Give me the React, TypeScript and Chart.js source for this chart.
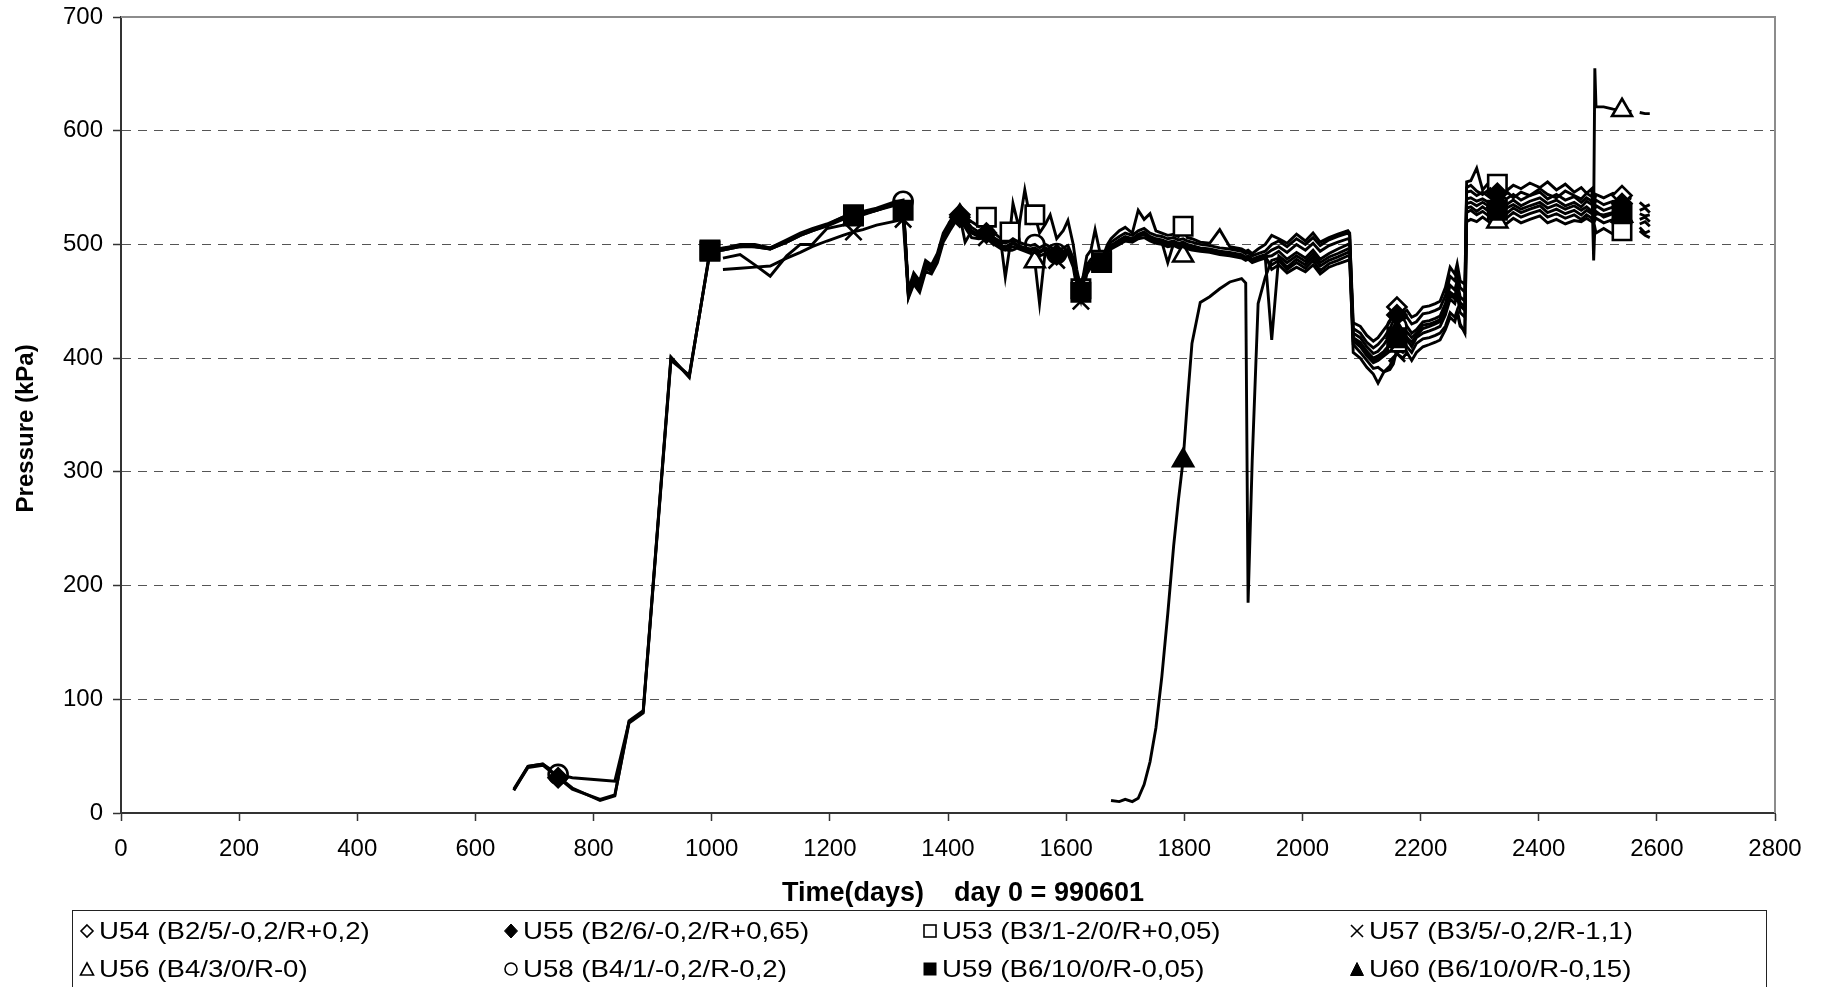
import React, { useEffect, useRef } from "react";
import { Chart, registerables } from "chart.js";

Chart.register(...registerables);

const N = null;

// Time axis (days, day 0 = 990601)
const DAYS = [
  // early
  665, 689, 714, 740, 764, 811, 836, 860, 884, 931, 962, 997,
  // 1000-1325
  1019, 1048, 1073, 1099, 1127, 1150, 1170, 1195, 1222, 1240, 1256, 1279, 1307, 1324,
  // 1333-1420
  1333, 1342, 1352, 1362, 1372, 1382, 1392, 1403, 1415, 1420,
  // 1429-1676
  1429, 1440, 1452, 1465, 1478, 1490, 1497, 1505, 1510, 1520,
  1530, 1540, 1547, 1555, 1565, 1573, 1584, 1595, 1603, 1612,
  1618, 1625, 1635, 1642, 1649, 1660, 1670, 1676,
  // 1690-1937
  1690, 1700, 1712, 1722, 1732, 1742, 1752, 1762, 1772, 1782,
  1790, 1798, 1805, 1813, 1827, 1843, 1860, 1877, 1897, 1904,
  1908, 1915, 1925, 1937,
  // 1948-2080
  1948, 1960, 1974, 1990, 2005, 2018, 2030, 2045, 2060, 2077, 2080,
  // 2086-2278
  2086, 2098, 2109, 2120, 2128, 2138, 2148, 2154, 2160, 2170,
  2177, 2185, 2193, 2204, 2215, 2225, 2233, 2242, 2250, 2258,
  2262, 2267, 2275, 2278,
  // 2285-2588
  2285, 2295, 2305, 2318, 2330, 2345, 2357, 2370, 2385, 2402,
  2415, 2430, 2445, 2460, 2472, 2481, 2490, 2493, 2495, 2497,
  2510, 2526, 2541, 2557, 2565, 2571, 2580, 2588,
];

const U54 = [
  21, 41, 43, 32, 22, 11, 15, 81, 90, 401, 383, 495,
  496, 500, 500, 497, 504, 510, 514, 518, 524, 527, 529, 532, 537, 539,
  458, 472, 465, 484, 480, 490, 508, 518, 527, 526,
  522, 515, 511, 514, 506, 502, 501, 503, 505, 502,
  500, 499, 500, 497, 500, 498, 493, 497, 499, 488,
  474, 465, 482, 487, 490, 489, 497, 502,
  507, 510, 508, 512, 514, 510, 508, 507, 505, 506,
  504, 505, 503, 502, 500, 499, 497, 496, 494, 492,
  493, 490, 492, 494,
  500, 503, 498, 505, 500, 506, 499, 504, 507, 510, 508,
  431, 428, 420, 415, 418, 425, 432, 440, 445, 440,
  442, 436, 438, 445, 446, 448, 450, 462, 480, 474,
  483, 468, 465, 550,
  552, 547, 544, 549, 543, 547, 541, 546, 543, 549,
  544, 541, 547, 543, 540, 545, 542, 544, 540, 544,
  541, 545, 543, 540, N, 537, 533, 535,
];

const U55 = [
  20, 40, 42, 31, 21, 12, 16, 79, 88, 398, 385, 493,
  495, 498, 499, 496, 502, 508, 512, 516, 522, 525, 527, 530, 535, 537,
  455, 468, 462, 480, 476, 487, 505, 515, 525, 524,
  519, 512, 508, 510, 504, 499, 498, 500, 502, 499,
  497, 496, 497, 494, 497, 495, 491, 494, 496, 485,
  470, 462, 478, 484, 487, 486, 494, 499,
  504, 507, 505, 509, 511, 507, 505, 504, 502, 503,
  501, 502, 500, 499, 497, 496, 494, 493, 491, 489,
  490, 487, 489, 491,
  495, 498, 493, 500, 495, 501, 494, 499, 502, 505, 504,
  426, 422, 414, 409, 412, 418, 426, 433, 438, 434,
  436, 430, 432, 439, 440, 442, 444, 455, 472, 468,
  476, 462, 458, 546,
  547, 543, 546, 541, 545, 540, 544, 539, 543, 546,
  540, 544, 539, 542, 537, 541, 538, 540, 536, 539,
  535, 538, 536, 534, N, 530, 532, 528,
];

const U53 = [
  N, N, N, N, N, N, N, N, N, N, N, 494,
  497, 499, 498, 496, 503, 509, 513, 517, 524, 526, 528, 531, 536, 537,
  460, 475, 468, 486, 482, 492, 510, 520, 528, 527,
  524, 520, 516, 524, 510, 505, 506, 511, 536, 515,
  548, 520, 526, 510, 518, 526, 505, 512, 521, 500,
  478, 461, 490, 495, 513, 486, 500, 505,
  512, 515, 510, 530, 522, 527, 512, 510, 508, 509,
  507, 516, 506, 505, 502, 501, 513, 498, 496, 494,
  495, 492, 496, 500,
  508, 505, 501, 509, 503, 510, 502, 506, 509, 512, 510,
  418, 412, 404, 398, 400, 404, 410, 412, 414, 412,
  416, 410, 418, 422, 424, 426, 428, 438, 452, 448,
  456, 440, 436, 555,
  556, 567, 548, 556, 553, 547, 552, 549, 554, 550,
  555, 548, 553, 546, 550, 545, 549, 486, 515, 510,
  514, 509, 512, 510, N, 512, 508, 506,
];

const U57 = [
  N, N, N, N, N, N, N, N, N, N, N, N,
  478, 479, 480, 481, 488, 493, 498, 503, 508, 511, 513, 517, 520, 522,
  453, 465, 458, 476, 474, 484, 502, 512, 522, 521,
  515, 506, 505, 506, 500, 496, 495, 497, 498, 496,
  494, 492, 493, 490, 492, 491, 486, 490, 492, 480,
  462, 450, 474, 480, 483, 482, 490, 496,
  500, 503, 502, 505, 506, 503, 501, 500, 498, 499,
  497, 498, 496, 495, 494, 493, 491, 490, 488, 486,
  487, 484, 486, 488,
  482, 486, 478, 484, 479, 486, 477, 483, 486, 490, 489,
  405, 400, 392, 386, 378, 388, 393, 400, 404, 400,
  405, 398, 405, 410, 412, 414, 416, 425, 436, 432,
  440, 428, 424, 528,
  530, 526, 529, 524, 527, 523, 528, 524, 527, 530,
  524, 527, 523, 526, 522, 526, 523, 524, 521, 523,
  519, 522, 520, 518, N, 515, 510, 512,
];

const U56 = [
  N, N, N, N, N, N, N, N, N, N, N, N,
  488, 491, 482, 472, 490, 500, 500, 514, 517, 524, 526, 530, 534, 533,
  456, 470, 463, 482, 478, 488, 506, 516, 526, 525,
  502, 512, 509, 508, 503, 500, 471, 499, 501, 498,
  496, 495, 485, 448, 496, 494, 490, 493, 495, 484,
  469, 461, 477, 483, 485, 485, 493, 498,
  503, 506, 504, 508, 510, 506, 504, 503, 501, 502,
  500, 490, 499, 498, 496, 495, 493, 492, 490, 488,
  489, 486, 488, 490,
  478, 482, 475, 480, 476, 482, 474, 480, 483, 486, 485,
  412, 405, 398, 391, 392, 388, 390, 395, 408, 405,
  410, 405, 413, 417, 418, 420, 422, 428, 440, 436,
  442, 430, 422, 520,
  522, 520, 524, 519, 520, 518, 523, 519, 522, 525,
  519, 522, 518, 521, 520, 523, 520, 523, 655, 621,
  621, 619, 618, 617, N, 616, 615, 615,
];

const U58 = [
  20, 41, 43, 34, 31, 29, 28, 80, 89, 400, 384, 494,
  495, 498, 498, 496, 502, 508, 512, 517, 523, 526, 528, 531, 536, 538,
  454, 470, 466, 478, 481, 486, 504, 514, 524, 523,
  518, 510, 507, 509, 502, 498, 497, 503, 500, 498,
  496, 494, 500, 493, 496, 494, 492, 493, 495, 484,
  468, 460, 476, 482, 486, 485, 493, 497,
  502, 505, 503, 507, 509, 505, 503, 502, 500, 501,
  499, 500, 498, 497, 495, 494, 492, 491, 489, 487,
  488, 485, 487, 489,
  490, 494, 487, 493, 488, 495, 487, 492, 496, 500, 499,
  422, 418, 410, 404, 406, 412, 420, 426, 428, 425,
  428, 422, 425, 432, 433, 435, 437, 448, 464, 460,
  468, 454, 450, 540,
  541, 538, 540, 536, 541, 535, 539, 534, 538, 541,
  536, 539, 534, 537, 533, 538, 535, 533, 531, 534,
  530, 533, 531, 529, N, 527, 525, 526,
];

const U59 = [
  N, N, N, N, N, N, N, N, N, N, N, 495,
  496, 499, 499, 497, 503, 509, 513, 517, 523, 525, 527, 530, 535, 530,
  457, 468, 461, 479, 477, 489, 506, 515, 525, 524,
  517, 511, 507, 509, 503, 498, 497, 500, 501, 498,
  496, 495, 496, 493, 496, 494, 489, 493, 495, 484,
  466, 458, 477, 483, 486, 484, 492, 497,
  503, 506, 504, 507, 509, 505, 503, 502, 484, 501,
  499, 500, 498, 497, 495, 494, 492, 491, 489, 487,
  488, 485, 487, 489,
  416, 490, 484, 490, 485, 492, 484, 489, 492, 496, 495,
  415, 410, 402, 396, 398, 402, 406, 410, 418, 414,
  418, 414, 420, 426, 428, 430, 432, 442, 456, 452,
  460, 446, 442, 532,
  533, 529, 533, 528, 530, 527, 532, 528, 531, 534,
  528, 531, 527, 530, 526, 530, 527, 529, 525, 527,
  526, 528, 527, 524, N, 522, 524, 520,
];

const U60 = [
  N, N, N, N, N, N, N, N, N, N, N, N,
  N, N, N, N, N, N, N, N, N, N, N, N, N, N,
  N, N, N, N, N, N, N, N, N, N,
  N, N, N, N, N, N, N, N, N, N,
  N, N, N, N, N, N, N, N, N, N,
  N, N, N, N, N, N, N, 11,
  10, 12, 10, 13, 25, 45, 75, 120, 175, 235,
  275, 310, 360, 413, 449, 454, 461, 467, 470, 466,
  185, 310, 448, 471,
  486, 488, 480, 487, 482, 489, 481, 486, 489, 493, 492,
  418, 414, 406, 400, 402, 406, 412, 417, 423, 420,
  423, 418, 422, 429, 430, 432, 434, 444, 458, 455,
  462, 449, 445, 536,
  537, 534, 537, 533, 538, 532, 535, 531, 534, 537,
  532, 535, 531, 534, 530, 533, 529, 531, 527, 529,
  524, 527, 525, 523, N, 518, 520, 516,
];

// Days at which each series shows its marker
const MK_U54 = [1420, 2160, 2541];
const MK_U55 = [740, 1420, 1465, 1584, 2160, 2330, 2541];
const MK_U53 = [997, 1240, 1465, 1505, 1547, 1625, 1660, 1798, 2160, 2330, 2541];
const MK_U57 = [1240, 1324, 1465, 1584, 1625, 2160];
const MK_U56 = [1420, 1547, 1798, 2330, 2541];
const MK_U58 = [740, 1324, 1505, 1547, 1584, 2160];
const MK_U59 = [997, 1240, 1324, 1625, 1660, 2160, 2330, 2541];
const MK_U60 = [1798, 2160, 2330, 2541];

const NAMES = [
  "U54 (B2/5/-0,2/R+0,2)",
  "U55 (B2/6/-0,2/R+0,65)",
  "U53 (B3/1-2/0/R+0,05)",
  "U57 (B3/5/-0,2/R-1,1)",
  "U56 (B4/3/0/R-0)",
  "U58 (B4/1/-0,2/R-0,2)",
  "U59 (B6/10/0/R-0,05)",
  "U60 (B6/10/0/R-0,15)",
];

const X_TICKS = [0, 200, 400, 600, 800, 1000, 1200, 1400, 1600, 1800, 2000, 2200, 2400, 2600, 2800];
const X_TICK_LABELS = ["0", "200", "400", "600", "800", "1000", "1200", "1400", "1600", "1800", "2000", "2200", "2400", "2600", "2800"];
const Y_TICKS = [0, 100, 200, 300, 400, 500, 600, 700];
const Y_TICK_LABELS = ["0", "100", "200", "300", "400", "500", "600", "700"];
const X_TITLE = "    Time(days)    day 0 = 990601";
const Y_TITLE = "Pressure (kPa)    ";

const FONT = "'Liberation Sans', Arial, sans-serif";

type Marker = "diamondOpen" | "diamondFilled" | "squareOpen" | "cross" | "triangleOpen" | "circleOpen" | "squareFilled" | "triangleFilled";

const SERIES: { name: string; values: (number | null)[]; markers: number[]; marker: Marker; style: string; filled: boolean; radius: number }[] = [
  { name: NAMES[0], values: U54, markers: MK_U54, marker: "diamondOpen", style: "rectRot", filled: false, radius: 9.5 },
  { name: NAMES[1], values: U55, markers: MK_U55, marker: "diamondFilled", style: "rectRot", filled: true, radius: 9.5 },
  { name: NAMES[2], values: U53, markers: MK_U53, marker: "squareOpen", style: "rect", filled: false, radius: 13 },
  { name: NAMES[3], values: U57, markers: MK_U57, marker: "cross", style: "crossRot", filled: false, radius: 11.5 },
  { name: NAMES[4], values: U56, markers: MK_U56, marker: "triangleOpen", style: "triangle", filled: false, radius: 11.5 },
  { name: NAMES[5], values: U58, markers: MK_U58, marker: "circleOpen", style: "circle", filled: false, radius: 9.5 },
  { name: NAMES[6], values: U59, markers: MK_U59, marker: "squareFilled", style: "rect", filled: true, radius: 13 },
  { name: NAMES[7], values: U60, markers: MK_U60, marker: "triangleFilled", style: "triangle", filled: true, radius: 11.5 },
];

function LegendMarker({ kind }: { kind: Marker }) {
  const sw = 1.6;
  let shape: React.ReactNode = null;
  switch (kind) {
    case "diamondOpen":
      shape = <polygon points="8,2 14,8 8,14 2,8" fill="#fff" stroke="#000" strokeWidth={sw} />;
      break;
    case "diamondFilled":
      shape = <polygon points="8,1 14.5,8 8,15 1.5,8" fill="#000" stroke="#000" strokeWidth={1} />;
      break;
    case "squareOpen":
      shape = <rect x="2" y="2" width="12" height="12" fill="#fff" stroke="#000" strokeWidth={sw} />;
      break;
    case "squareFilled":
      shape = <rect x="2" y="2" width="12" height="12" fill="#000" stroke="#000" strokeWidth={1} />;
      break;
    case "cross":
      shape = (
        <g stroke="#000" strokeWidth={sw}>
          <line x1="2" y1="2" x2="14" y2="14" />
          <line x1="14" y1="2" x2="2" y2="14" />
        </g>
      );
      break;
    case "triangleOpen":
      shape = <polygon points="8,2 14.5,14 1.5,14" fill="#fff" stroke="#000" strokeWidth={sw} />;
      break;
    case "triangleFilled":
      shape = <polygon points="8,1.5 14.5,14.5 1.5,14.5" fill="#000" stroke="#000" strokeWidth={1} />;
      break;
    case "circleOpen":
      shape = <circle cx="8" cy="8" r="6" fill="#fff" stroke="#000" strokeWidth={sw} />;
      break;
  }
  return (
    <svg width="16" height="16" viewBox="0 0 16 16" style={{ display: "block", flex: "none" }}>
      {shape}
    </svg>
  );
}

const LEGEND_COL_X = [79, 503, 922, 1349];
const LEGEND_ROW_Y = [931, 969];

export default function App() {
  const canvasRef = useRef<HTMLCanvasElement | null>(null);

  useEffect(() => {
    const canvas = canvasRef.current;
    if (!canvas) return;

    const frame = {
      id: "plotFrame",
      afterDatasetsDraw(chart: any) {
        const { ctx, chartArea } = chart;
        ctx.save();
        ctx.strokeStyle = "#8c8c8c";
        ctx.lineWidth = 2;
        ctx.beginPath();
        ctx.moveTo(chartArea.left, chartArea.top);
        ctx.lineTo(chartArea.right, chartArea.top);
        ctx.lineTo(chartArea.right, chartArea.bottom);
        ctx.stroke();
        ctx.restore();
      },
    };

    const datasets = SERIES.map((s) => ({
      label: s.name,
      data: DAYS.map((d, i) => ({ x: d, y: s.values[i] })),
      order: s.filled ? 0 : 1,
      borderColor: "#000",
      borderWidth: 2.9,
      backgroundColor: s.filled ? "#000" : "#fff",
      pointStyle: s.style,
      pointBackgroundColor: s.filled ? "#000" : "#fff",
      pointBorderColor: "#000",
      pointBorderWidth: 2.6,
      pointRadius: (c: any) => {
        const i = c.dataIndex;
        return s.values[i] != null && s.markers.includes(DAYS[i]) ? s.radius : 0;
      },
      pointHoverRadius: 0,
      tension: 0,
      spanGaps: false,
      fill: false,
    }));

    const chart = new Chart(canvas, {
      type: "line",
      data: { datasets } as any,
      plugins: [frame],
      options: {
        animation: false,
        responsive: false,
        maintainAspectRatio: false,
        events: [],
        layout: { padding: { left: 0, right: 55, top: 17, bottom: 76 } },
        plugins: {
          legend: { display: false },
          tooltip: { enabled: false },
        },
        scales: {
          x: {
            type: "linear",
            min: 0,
            max: 2800,
            afterFit: (s: any) => {
              s.height = 98;
              s.paddingLeft = 0;
              s.paddingRight = 0;
            },
            afterBuildTicks: (s: any) => {
              s.ticks = X_TICKS.map((v) => ({ value: v }));
            },
            ticks: {
              font: { family: FONT, size: 24 },
              color: "#000",
              padding: 14,
              maxRotation: 0,
              autoSkip: false,
              callback: (_v: any, i: number) => X_TICK_LABELS[i],
            },
            grid: {
              display: true,
              drawOnChartArea: false,
              drawTicks: true,
              tickLength: 8,
              tickColor: "#333",
              tickWidth: 1.5,
            },
            border: { display: true, color: "#333", width: 2 },
            title: {
              display: true,
              text: X_TITLE,
              font: { family: FONT, size: 27, weight: "bold" },
              color: "#000",
              padding: { top: 0, bottom: 1 },
            },
          },
          y: {
            type: "linear",
            min: 0,
            max: 700,
            afterFit: (s: any) => {
              s.width = 121;
              s.paddingTop = 0;
              s.paddingBottom = 0;
            },
            afterBuildTicks: (s: any) => {
              s.ticks = Y_TICKS.map((v) => ({ value: v }));
            },
            ticks: {
              font: { family: FONT, size: 24 },
              color: "#000",
              padding: 10,
              callback: (_v: any, i: number) => Y_TICK_LABELS[i],
            },
            grid: {
              color: (c: any) => (c.tick && c.tick.value > 0 && c.tick.value < 700 ? "#555" : "rgba(0,0,0,0)"),
              lineWidth: 1,
              drawTicks: true,
              tickLength: 8,
              tickColor: "#333",
              tickWidth: 1.5,
            },
            border: { display: true, color: "#333", width: 2, dash: [9, 7] },
            title: {
              display: true,
              text: Y_TITLE,
              font: { family: FONT, size: 24, weight: "bold" },
              color: "#000",
              padding: { top: 12, bottom: 0 },
            },
          },
        },
      } as any,
    });

    return () => {
      chart.destroy();
    };
  }, []);

  return (
    <div
      style={{
        position: "fixed",
        left: 0,
        top: 0,
        width: 1830,
        height: 987,
        overflow: "hidden",
        background: "#fff",
      }}
    >
      <canvas ref={canvasRef} width={1830} height={987} style={{ display: "block", width: 1830, height: 987 }} />
      <div
        style={{
          position: "absolute",
          left: 72,
          top: 910,
          width: 1695,
          height: 110,
          border: "1.5px solid #222",
          boxSizing: "border-box",
        }}
      />
      {SERIES.map((s, i) => {
        const col = i % 4;
        const row = Math.floor(i / 4);
        return (
          <div
            key={s.name}
            style={{
              position: "absolute",
              left: LEGEND_COL_X[col],
              top: LEGEND_ROW_Y[row] - 16,
              height: 32,
              display: "flex",
              alignItems: "center",
              gap: 4,
              whiteSpace: "nowrap",
            }}
          >
            <LegendMarker kind={s.marker} />
            <span
              style={{
                display: "inline-block",
                fontFamily: FONT,
                fontSize: 24,
                color: "#000",
                transform: "scaleX(1.15)",
                transformOrigin: "left center",
              }}
            >
              {s.name}
            </span>
          </div>
        );
      })}
    </div>
  );
}
